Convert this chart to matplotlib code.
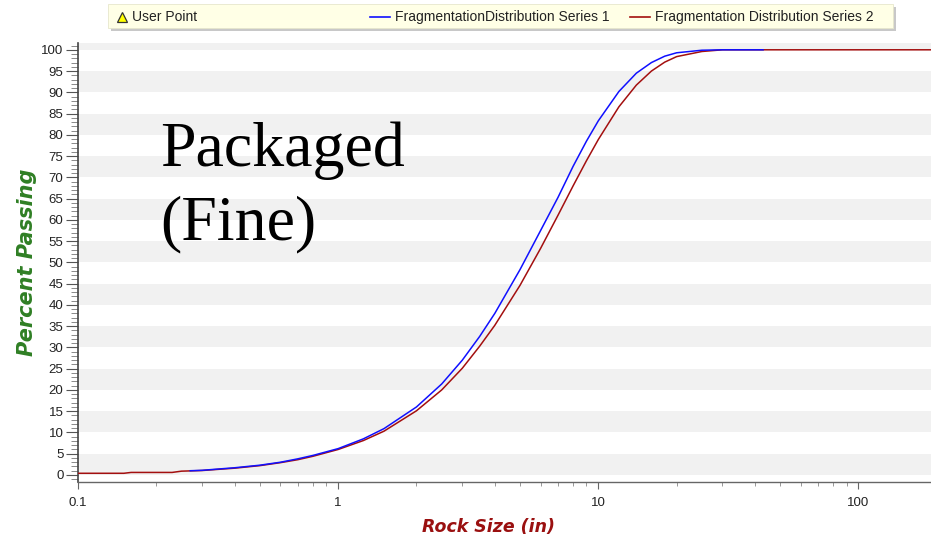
"""Fragmentation distribution chart: packaged (fine) explosive, percent passing vs rock size."""

import matplotlib
matplotlib.use("Agg")
import matplotlib.pyplot as plt
import matplotlib.ticker as mtick
from matplotlib.patches import Rectangle
from matplotlib.lines import Line2D

# Series 1 (blue)
size_1 = [0.27, 0.3, 0.4, 0.5, 0.6, 0.7, 0.8, 1.0, 1.25, 1.5, 2.0, 2.5, 3.0, 3.5,
          4.0, 5.0, 6.0, 7.0, 8.0, 9.0, 10, 12, 14, 16, 18, 20, 25, 30, 43]
pass_1 = [1.0, 1.1, 1.7, 2.3, 3.0, 3.8, 4.6, 6.2, 8.5, 10.9, 16.0, 21.4, 27.0, 32.6,
          38.0, 48.3, 57.5, 65.3, 72.6, 78.5, 83.3, 90.2, 94.5, 97.0, 98.5, 99.3, 99.9, 100, 100]

# Series 2 (dark red)
size_2 = [0.1, 0.15, 0.16, 0.23, 0.25, 0.3, 0.4, 0.5, 0.6, 0.7, 0.8, 1.0, 1.25, 1.5,
          2.0, 2.5, 3.0, 3.5, 4.0, 5.0, 6.0, 7.0, 8.0, 9.0, 10, 12, 14, 16, 18, 20,
          25, 30, 190]
pass_2 = [0.4, 0.4, 0.6, 0.6, 0.9, 1.05, 1.6, 2.2, 2.9, 3.6, 4.4, 6.0, 8.1, 10.3,
          15.1, 20.0, 25.1, 30.3, 35.2, 44.6, 53.3, 61.1, 68.0, 73.9, 78.9, 86.6,
          91.7, 95.0, 97.1, 98.4, 99.6, 100, 100]

x_major = [0.1, 1, 10, 100]
x_labels = ["0.1", "1", "10", "100"]

W, H = 931, 543
TICK_FONT = "Liberation Sans"


def main() -> None:
    fig = plt.figure(figsize=(W / 100, H / 100), dpi=100, facecolor="white")
    ax = fig.add_axes([78 / W, 61 / H, 1 - 78 / W, 439 / H])
    ax.set_facecolor("white")

    # alternating bands every 5 %
    for lo in range(0, 101, 10):
        ax.axhspan(lo, lo + 5, color="#f1f1f1", lw=0, zorder=0)

    ax.plot(size_2, pass_2, color="#a30f0f", lw=1.1, zorder=3)
    ax.plot(size_1, pass_1, color="#1010ff", lw=1.1, zorder=4)

    ax.set_xscale("log")
    ax.set_xlim(0.1, 190)
    ax.set_ylim(-1.65, 101.6)

    ax.xaxis.set_major_locator(mtick.FixedLocator(x_major))
    ax.xaxis.set_major_formatter(mtick.FixedFormatter(x_labels))
    ax.xaxis.set_minor_locator(mtick.LogLocator(base=10, subs=range(2, 10)))
    ax.xaxis.set_minor_formatter(mtick.NullFormatter())
    ax.yaxis.set_major_locator(mtick.MultipleLocator(5))
    ax.yaxis.set_minor_locator(mtick.MultipleLocator(1))

    ax.tick_params(axis="y", which="major", direction="out", length=9, width=0.8,
                   color="#555555", pad=1.5, labelsize=9.5, labelcolor="#222222")
    ax.tick_params(axis="y", which="minor", direction="out", length=5, width=0.6,
                   color="#777777")
    ax.tick_params(axis="x", which="major", direction="out", length=5, width=0.8,
                   color="#666666", pad=6, labelsize=9.5, labelcolor="#222222")
    ax.tick_params(axis="x", which="minor", direction="out", length=3, width=0.6,
                   color="#888888")
    for lab in ax.get_xticklabels() + ax.get_yticklabels():
        lab.set_fontfamily(TICK_FONT)

    for s in ("top", "right"):
        ax.spines[s].set_visible(False)
    ax.spines["left"].set_color("#444444")
    ax.spines["left"].set_linewidth(1.2)
    ax.spines["bottom"].set_color("#666666")
    ax.spines["bottom"].set_linewidth(1.0)

    fig.text(27 / W, 1 - 262 / H, "Percent Passing", rotation=90, ha="center", va="center",
             fontsize=15, fontweight="bold", fontstyle="italic", color="#2f7f24",
             family="DejaVu Sans")
    fig.text(488 / W, 1 - 527 / H, "Rock Size (in)", ha="center", va="center",
             fontsize=12.5, fontweight="bold", fontstyle="italic", color="#9a1010",
             family="DejaVu Sans")

    # big annotation
    fig.text(160 / W, 1 - 166 / H, "Packaged", ha="left", va="baseline",
             fontsize=46, family="Liberation Serif", color="black")
    fig.text(160 / W, 1 - 239 / H, "(Fine)", ha="left", va="baseline",
             fontsize=46, family="Liberation Serif", color="black")

    # legend strip along the top, drawn in pixel coordinates
    lax = fig.add_axes([0, 0, 1, 1], zorder=5)
    lax.set_xlim(0, W)
    lax.set_ylim(H, 0)
    lax.axis("off")
    lax.add_patch(Rectangle((111, 7), 785, 24, facecolor="#c8c8c8", edgecolor="none"))
    lax.add_patch(Rectangle((108, 4), 785, 24, facecolor="#ffffe6", edgecolor="#e6e6cc", lw=0.6))
    lax.add_line(Line2D([122], [17], marker="^", ms=6.5, mfc="#ffff00", mec="#333333",
                        mew=0.9, ls="none"))
    lax.text(132, 17, "User Point", va="center", ha="left", fontsize=10,
             family=TICK_FONT, color="#222222")
    lax.add_line(Line2D([370, 390], [17, 17], color="#1010ff", lw=1.2))
    lax.text(395, 17, "FragmentationDistribution Series 1", va="center", ha="left",
             fontsize=10, family=TICK_FONT, color="#222222")
    lax.add_line(Line2D([630, 650], [17, 17], color="#a30f0f", lw=1.2))
    lax.text(655, 17, "Fragmentation Distribution Series 2", va="center", ha="left",
             fontsize=10, family=TICK_FONT, color="#222222")

    fig.savefig("out.png", dpi=100, facecolor=fig.get_facecolor())
    plt.close(fig)


if __name__ == "__main__":
    main()
